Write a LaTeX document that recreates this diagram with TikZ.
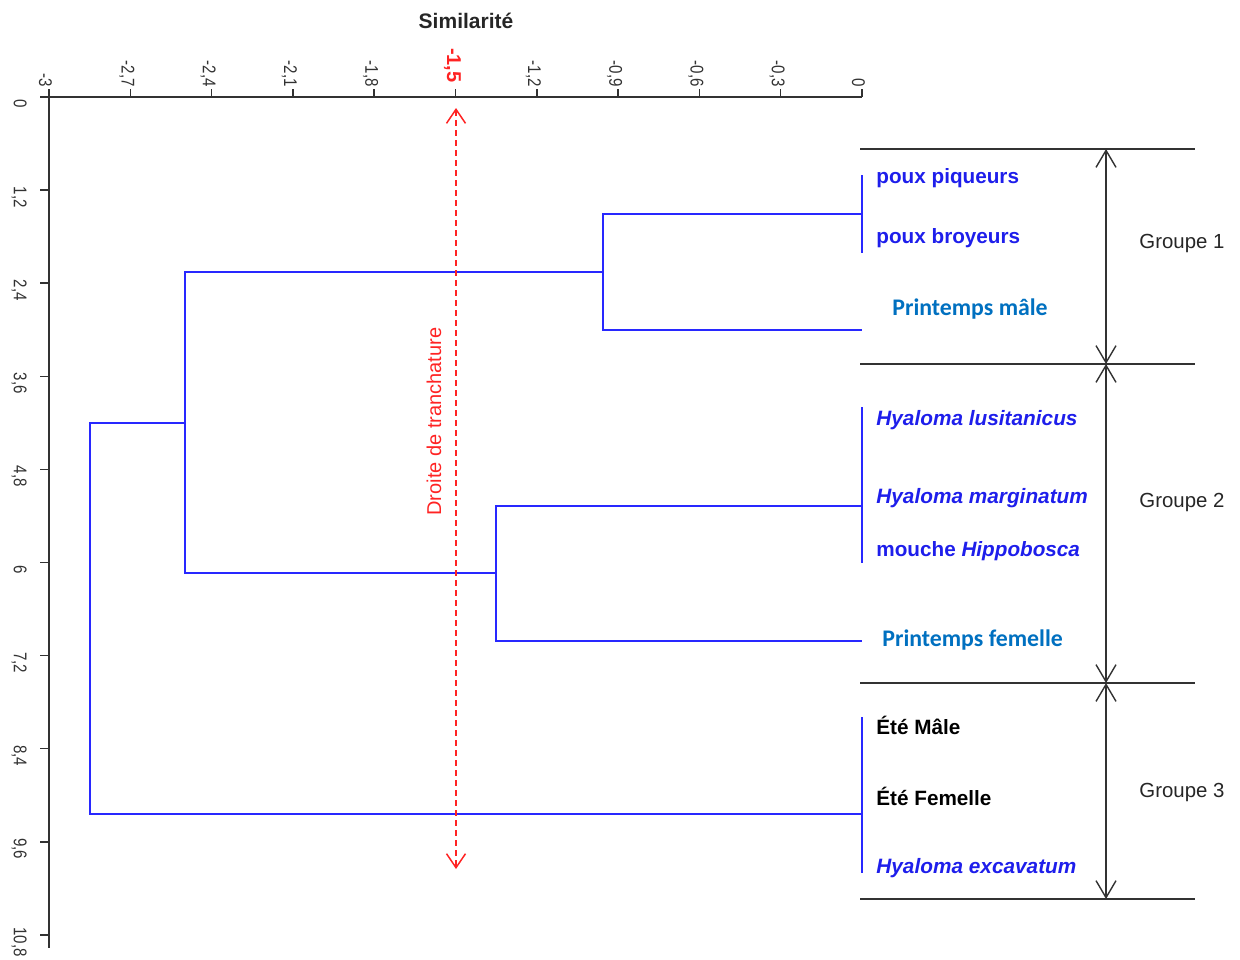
\documentclass[tikz,border=0pt]{standalone}
\usepackage{fontspec}
\setmainfont{Liberation Sans}
\newfontfamily\calfont{Carlito}
\newfontfamily\axfont[FakeStretch=0.82]{Liberation Sans}
\usetikzlibrary{arrows.meta}
\definecolor{dendro}{RGB}{40,40,255}
\definecolor{leafblue}{RGB}{30,30,235}
\definecolor{spring}{RGB}{0,112,192}
\definecolor{axisgray}{RGB}{50,50,50}
\definecolor{cutred}{RGB}{255,35,35}
\begin{document}
\begin{tikzpicture}[x=0.5pt,y=-0.5pt,
  axisline/.style={draw=axisgray,line width=0.75pt},
  dline/.style={draw=dendro,line width=0.75pt},
  grpline/.style={draw=axisgray,line width=0.75pt},
  grparrow/.style={draw=axisgray,line width=0.7pt,{Straight Barb[length=8.5pt,width=10pt]}-{Straight Barb[length=8.5pt,width=10pt]}},
  cutarrow/.style={draw=cutred,line width=0.75pt,dash pattern=on 3pt off 2pt,{Straight Barb[length=7pt,width=9.5pt]}-{Straight Barb[length=7pt,width=9.5pt]}},
  toplab/.style={font=\axfont\fontsize{9.2}{10}\selectfont,text=axisgray,rotate=-90,anchor=east,inner sep=0pt},
  leftlab/.style={font=\axfont\fontsize{9.2}{10}\selectfont,text=axisgray,rotate=-90,anchor=north,inner sep=0pt},
  leaf/.style={font=\bfseries\fontsize{10.35}{12}\selectfont,text=leafblue,anchor=base west,inner sep=0pt},
  leafit/.style={leaf,font=\bfseries\itshape\fontsize{10.4}{12}\selectfont},
  springlab/.style={font=\calfont\bfseries\fontsize{11.9}{14}\selectfont,text=spring,anchor=base west,inner sep=0pt},
  summerlab/.style={leaf,text=black},
  grouplab/.style={font=\fontsize{10.2}{12}\selectfont,text=black!85,anchor=base west,inner sep=0pt}]
\useasboundingbox (0,0) rectangle (1240,959);

% title
\node[font=\bfseries\fontsize{10.5}{12}\selectfont,text=black!85] (title) at (466,21) {Similarité};

% axes
\coordinate (hxL) at (40,97);
\coordinate (hxR) at (862,97);
\coordinate (vxT) at (49,89);
\coordinate (vxB) at (49,948);
\draw[axisline] (hxL) -- (hxR);
\draw[axisline] (vxT) -- (vxB);

% top ticks
\foreach \k in {0,...,10}{
  \draw[axisline] (49+\k*81.3,97) -- (49+\k*81.3,89);
}
\node[toplab] (t0) at (45.5,87) {-3};
\node[toplab] (t1) at (126.8,87) {-2,7};
\node[toplab] (t2) at (208.1,87) {-2,4};
\node[toplab] (t3) at (289.4,87) {-2,1};
\node[toplab] (t4) at (370.7,87) {-1,8};
\node[toplab,font=\bfseries\fontsize{10}{12}\selectfont,text=cutred] (t5) at (452.5,83) {-1,5};
\node[toplab] (t6) at (533.3,87) {-1,2};
\node[toplab] (t7) at (614.6,87) {-0,9};
\node[toplab] (t8) at (695.9,87) {-0,6};
\node[toplab] (t9) at (777.2,87) {-0,3};
\node[toplab] (t10) at (858.5,87) {0};

% left ticks
\foreach \j in {0,...,9}{
  \draw[axisline] (40,97+\j*93.1) -- (49,97+\j*93.1);
}
\node[leftlab] (l0) at (27,104) {0};
\node[leftlab] (l1) at (27,197.1) {1,2};
\node[leftlab] (l2) at (27,290.2) {2,4};
\node[leftlab] (l3) at (27,383.3) {3,6};
\node[leftlab] (l4) at (27,476.4) {4,8};
\node[leftlab] (l5) at (27,569.5) {6};
\node[leftlab] (l6) at (27,662.6) {7,2};
\node[leftlab] (l7) at (27,755.7) {8,4};
\node[leftlab] (l8) at (27,848.8) {9,6};
\node[leftlab] (l9) at (27,941.9) {10,8};

% group separators
\coordinate (s1L) at (860,149); \coordinate (s1R) at (1195,149);
\coordinate (s2L) at (860,364); \coordinate (s2R) at (1195,364);
\coordinate (s3L) at (860,683); \coordinate (s3R) at (1195,683);
\coordinate (s4L) at (860,899); \coordinate (s4R) at (1195,899);
\draw[grpline] (s1L) -- (s1R);
\draw[grpline] (s2L) -- (s2R);
\draw[grpline] (s3L) -- (s3R);
\draw[grpline] (s4L) -- (s4R);
\coordinate (a1) at (1106,149);
\coordinate (a2) at (1106,364);
\coordinate (a3) at (1106,683);
\coordinate (a4) at (1106,899);
\draw[grparrow] (a1) -- (a2);
\draw[grparrow] (a2) -- (a3);
\draw[grparrow] (a3) -- (a4);
\node[grouplab] (G1) at (1139,248) {Groupe 1};
\node[grouplab] (G2) at (1139,507) {Groupe 2};
\node[grouplab] (G3) at (1139,797) {Groupe 3};

% dendrogram
\coordinate (g1top) at (862,175);
\coordinate (g1bot) at (862,253);
\coordinate (g1mid) at (862,214);
\coordinate (pm) at (862,330);
\coordinate (g2top) at (862,407);
\coordinate (g2bot) at (862,563);
\coordinate (g2mid) at (862,506);
\coordinate (pf) at (862,641);
\coordinate (g3top) at (862,717);
\coordinate (g3bot) at (862,873);
\coordinate (g3mid) at (862,814);
\coordinate (ajun) at (603,272);
\coordinate (bjun) at (496,573);
\coordinate (cjun) at (185,423);
\coordinate (djun) at (90,600);
\draw[dline] (g1top) -- (g1bot);
\draw[dline] (g2top) -- (g2bot);
\draw[dline] (g3top) -- (g3bot);
\draw[dline] (g1mid) -| (ajun) |- (pm);
\draw[dline] (g2mid) -| (bjun) |- (pf);
\draw[dline] (ajun) -| (cjun) |- (bjun);
\draw[dline] (cjun) -| (djun) |- (g3mid);

% leaf labels
\node[leaf] (n1) at (876,183) {poux piqueurs};
\node[leaf] (n2) at (876,243) {poux broyeurs};
\node[springlab] (n3) at (892,315) {Printemps mâle};
\node[leafit] (n4) at (876,425) {Hyaloma lusitanicus};
\node[leafit] (n5) at (876,503) {Hyaloma marginatum};
\node[leaf] (n6) at (876,556) {mouche \textit{Hippobosca}};
\node[springlab] (n7) at (882,646) {Printemps femelle};
\node[summerlab] (n8) at (876,734) {Été Mâle};
\node[summerlab] (n9) at (876,805) {Été Femelle};
\node[leafit] (n10) at (876,873) {Hyaloma excavatum};

% cut line
\coordinate (cutT) at (456,108);
\coordinate (cutB) at (456,869);
\draw[cutarrow] (cutT) -- (cutB);
\node[rotate=90,font=\fontsize{10}{12}\selectfont,text=cutred,inner sep=0pt] (cutlab) at (434,421.5) {Droite de tranchature};
\end{tikzpicture}
\end{document}
